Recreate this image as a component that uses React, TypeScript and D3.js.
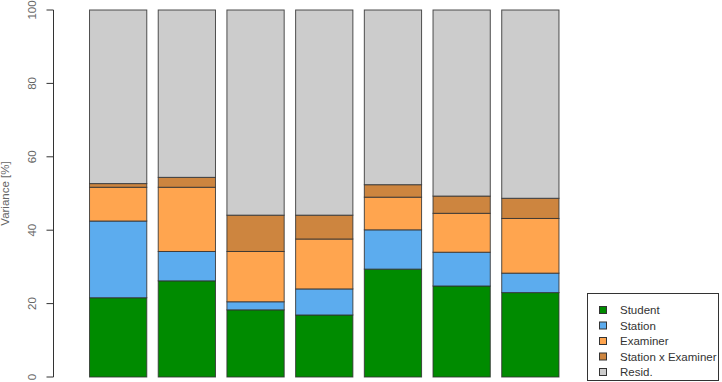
import React from "react";
import * as d3 from "d3";

const categories = ["1", "2", "3", "4", "5", "6", "7"];
const seriesNames = ["Student", "Station", "Examiner", "Station x Examiner", "Resid."];
const student = [21.6, 26.2, 18.3, 16.9, 29.4, 24.8, 23.0];
const station = [20.9, 8.0, 2.2, 7.1, 10.7, 9.2, 5.3];
const examiner = [9.2, 17.5, 13.7, 13.6, 8.9, 10.6, 14.9];
const stationXExaminer = [1.0, 2.7, 9.9, 6.5, 3.4, 4.7, 5.5];
const yTicks = [0, 20, 40, 60, 80, 100];
const colors = ["#008B00", "#5CACEE", "#FFA54F", "#CD853F", "#CCCCCC"];

const W = 722;
const H = 382;

export default function App() {
  const resid = categories.map(
    (_, i) => 100 - student[i] - station[i] - examiner[i] - stationXExaminer[i]
  );
  const series = [student, station, examiner, stationXExaminer, resid];
  const rows = categories.map((c, i) => {
    const r: any = { cat: c };
    seriesNames.forEach((s, k) => (r[s] = series[k][i]));
    return r;
  });
  const stacked = d3.stack<any>().keys(seriesNames)(rows);

  const x = d3
    .scaleBand<string>()
    .domain(categories)
    .range([83.8, 564.7])
    .paddingInner(1 / 6)
    .paddingOuter(1 / 12);
  const y = d3.scaleLinear().domain([0, 100]).range([377, 10]);

  const font = "'Liberation Sans', Arial, Helvetica, sans-serif";

  return (
    <div style={{ position: "absolute", left: 0, top: 0 }}>
      <svg width={W} height={H} style={{ display: "block" }}>
        <rect x={0} y={0} width={W} height={H} fill="#fff" />
        {stacked.map((layer, k) => (
          <g key={layer.key}>
            {layer.map((d, i) => (
              <rect
                key={i}
                x={x(categories[i])!}
                y={y(d[1])}
                width={x.bandwidth()}
                height={y(d[0]) - y(d[1])}
                fill={colors[k]}
                stroke="#333"
                strokeOpacity={0.85}
                strokeWidth={1}
              />
            ))}
          </g>
        ))}
        {/* y axis */}
        <line x1={53.5} x2={53.5} y1={y(0)} y2={y(100)} stroke="#333" strokeWidth={1} />
        {yTicks.map((t) => (
          <g key={t}>
            <line x1={46.5} x2={53.5} y1={y(t)} y2={y(t)} stroke="#333" strokeWidth={1} />
            <text
              transform={`translate(36,${y(t)}) rotate(-90)`}
              textAnchor="middle"
              fontFamily={font}
              fontSize={11.5}
              fill="#666"
            >
              {t}
            </text>
          </g>
        ))}
        <text
          transform={`translate(9,${(y(0) + y(100)) / 2}) rotate(-90)`}
          textAnchor="middle"
          fontFamily={font}
          fontSize={11.5}
          fill="#666"
        >
          Variance [%]
        </text>
        {/* legend */}
        <rect x={587.5} y={293.5} width={131} height={87} fill="#fff" stroke="#333" strokeWidth={1} />
        {seriesNames.map((s, k) => {
          const cy = 310 + k * 15.5;
          return (
            <g key={s}>
              <rect x={599.5} y={cy - 3.5} width={7} height={7} fill={colors[k]} stroke="#333" strokeWidth={1} />
              <text x={620} y={cy + 4} fontFamily={font} fontSize={11.5} fill="#333">
                {s}
              </text>
            </g>
          );
        })}
      </svg>
    </div>
  );
}
